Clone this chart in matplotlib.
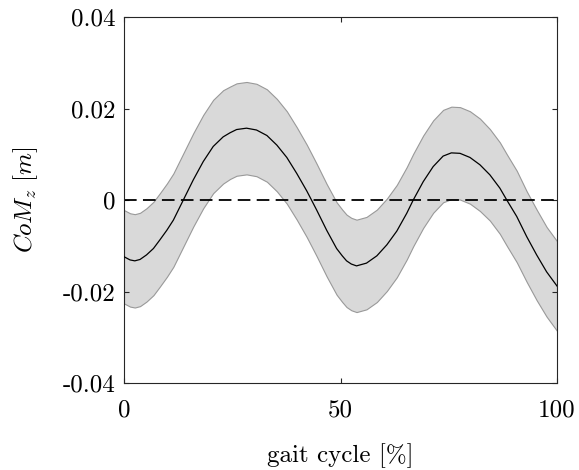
import matplotlib
matplotlib.use("Agg")
import matplotlib.pyplot as plt
import numpy as np

# ---- data ----
gait_pct = [0, 1.4, 2.5, 3.7, 5.2, 6.8, 8.3, 9.9, 11.4, 13.7, 16.0, 18.3, 20.6,
            22.9, 24.5, 26.0, 28.3, 30.6, 33.0, 35.3, 37.6, 39.9, 42.2, 43.3,
            44.5, 46.8, 49.1, 50.4, 51.4, 52.5, 53.7, 56.0, 58.4, 60.7, 63.0,
            65.3, 66.8, 69.1, 71.4, 73.7, 75.6, 77.6, 79.9, 82.2, 84.5, 86.8,
            88.4, 90.7, 93.0, 95.3, 97.6, 100]
com_mean = [-0.0124, -0.0131, -0.0133, -0.0130, -0.0120, -0.0106, -0.0087,
            -0.0066, -0.0044, 0.0000, 0.0044, 0.0084, 0.0117, 0.0138, 0.0147,
            0.0154, 0.0157, 0.0153, 0.0141, 0.0120, 0.0093, 0.0058, 0.0020,
            0.0000, -0.0022, -0.0066, -0.0106, -0.0122, -0.0133, -0.0140,
            -0.0144, -0.0138, -0.0122, -0.0098, -0.0068, -0.0029, 0.0000,
            0.0040, 0.0073, 0.0096, 0.0103, 0.0102, 0.0093, 0.0077, 0.0055,
            0.0026, 0.0000, -0.0036, -0.0080, -0.0120, -0.0157, -0.0188]
com_sd = [0.0102, 0.0102, 0.0102, 0.0102, 0.0102, 0.0102, 0.0102, 0.0102,
          0.0102, 0.0102, 0.0102, 0.0102, 0.0102, 0.0102, 0.0101, 0.0101,
          0.0101, 0.0101, 0.0101, 0.0101, 0.0101, 0.0101, 0.0101, 0.0101,
          0.0101, 0.0101, 0.0101, 0.0101, 0.0101, 0.0101, 0.0101, 0.0101,
          0.0101, 0.0101, 0.0101, 0.0101, 0.0101, 0.0101, 0.0101, 0.0101,
          0.0101, 0.0101, 0.0101, 0.0101, 0.0100, 0.0100, 0.0100, 0.0100,
          0.0099, 0.0099, 0.0098, 0.0098]
xticks = [0, 50, 100]
xtick_labels = ["0", "50", "100"]
yticks = [-0.04, -0.02, 0, 0.02, 0.04]
ytick_labels = ["-0.04", "-0.02", "0", "0.02", "0.04"]

plt.rcParams["mathtext.fontset"] = "cm"
plt.rcParams["font.family"] = ["cmr10", "DejaVu Serif"]
plt.rcParams["axes.unicode_minus"] = False

x = np.array(gait_pct)
m = np.array(com_mean)
s = np.array(com_sd)

fig = plt.figure(figsize=(5.79, 4.70), dpi=100)
ax = fig.add_axes([124 / 579, 87 / 470, 433 / 579, 366 / 470])

ax.fill_between(x, m - s, m + s, facecolor="#d9d9d9", edgecolor="#999999",
                linewidth=0.8, zorder=1)
ax.plot(x, m, color="black", linewidth=0.9, zorder=3)
ax.plot([0, 100], [0, 0], color="black", linewidth=1.3, linestyle=(0, (7, 3.5)),
        zorder=2)

ax.set_xlim(0, 100)
ax.set_ylim(-0.04, 0.04)
ax.set_xticks(xticks)
ax.set_xticklabels(xtick_labels)
ax.set_yticks(yticks)
ax.set_yticklabels(ytick_labels)

for sp in ax.spines.values():
    sp.set_color("#262626")
    sp.set_linewidth(0.8)

ax.tick_params(direction="in", length=3.5, width=0.8, color="#262626",
               top=True, right=True, labelsize=18)
ax.tick_params(axis="x", pad=12)
ax.tick_params(axis="y", pad=6)

ax.set_xlabel("gait cycle [%]", fontsize=18)
ax.xaxis.set_label_coords(0.5, -0.165)
ax.set_ylabel(r"$CoM_z\ [m]$", fontsize=18)
ax.yaxis.set_label_coords(-0.195, 0.5)

fig.savefig("out.png", dpi=100)
